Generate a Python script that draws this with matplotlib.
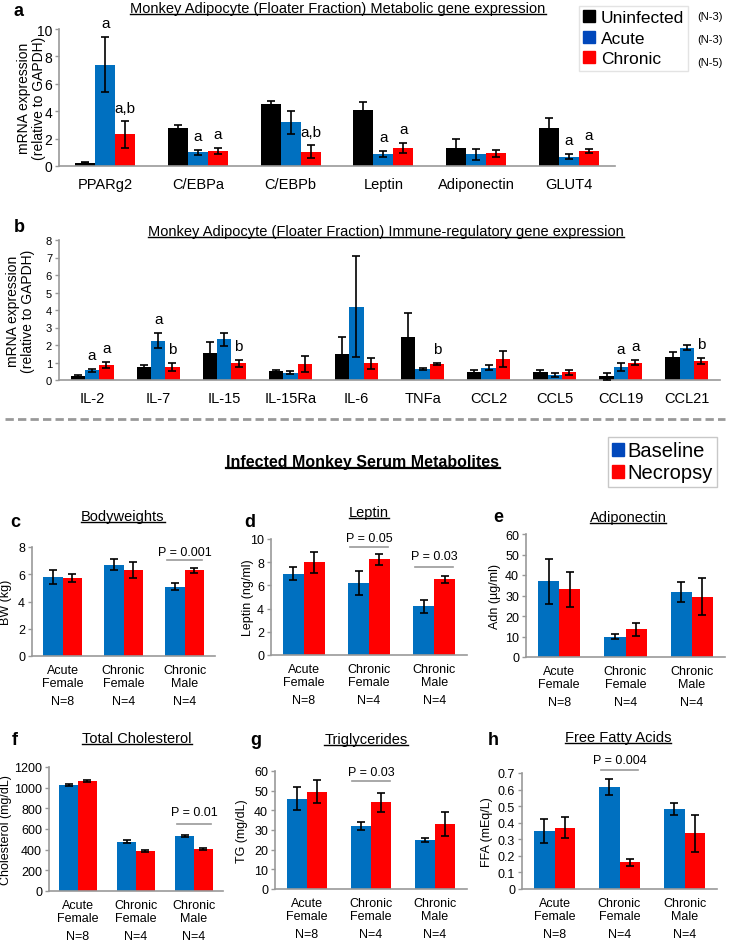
import numpy as np
import matplotlib
matplotlib.use("Agg")
import matplotlib.pyplot as plt
from matplotlib.lines import Line2D
from matplotlib.patches import Patch

plt.rcParams['font.family'] = ['Liberation Sans', 'DejaVu Sans']

W, H = 730, 945

# ---- panel a: metabolic genes ----
genes_a = ["PPARg2", "C/EBPa", "C/EBPb", "Leptin", "Adiponectin", "GLUT4"]
unin_a = [0.25, 2.8, 4.55, 4.1, 1.35, 2.8]
unin_a_err = [0.05, 0.2, 0.2, 0.6, 0.6, 0.73]
acute_a = [7.4, 1.0, 3.2, 0.88, 0.85, 0.68]
acute_a_err = [2.0, 0.2, 0.85, 0.22, 0.4, 0.2]
chron_a = [2.3, 1.1, 1.05, 1.3, 0.92, 1.1]
chron_a_err = [0.95, 0.2, 0.45, 0.35, 0.27, 0.14]
sig_a_acute = ["a", "a", "", "a", "", "a"]
sig_a_chron = ["a,b", "a", "a,b", "a", "", "a"]

# ---- panel b: immune genes ----
genes_b = ["IL-2", "IL-7", "IL-15", "IL-15Ra", "IL-6", "TNFa", "CCL2", "CCL5", "CCL19", "CCL21"]
unin_b = [0.22, 0.75, 1.55, 0.5, 1.5, 2.45, 0.47, 0.45, 0.22, 1.33]
unin_b_err = [0.07, 0.12, 0.6, 0.07, 0.97, 1.38, 0.1, 0.12, 0.2, 0.27]
acute_b = [0.55, 2.25, 2.33, 0.42, 4.2, 0.65, 0.7, 0.3, 0.75, 1.85]
acute_b_err = [0.07, 0.43, 0.38, 0.1, 2.9, 0.05, 0.15, 0.1, 0.23, 0.15]
chron_b = [0.88, 0.75, 0.97, 0.9, 0.95, 0.9, 1.2, 0.45, 1.0, 1.1]
chron_b_err = [0.17, 0.22, 0.2, 0.47, 0.33, 0.07, 0.45, 0.15, 0.17, 0.17]
sig_b_acute = ["a", "a", "", "", "", "", "", "", "a", ""]
sig_b_chron = ["a", "b", "b", "", "", "b", "", "", "a", "b"]

# ---- panels c-h: serum metabolites ----
groups = ["Acute\nFemale", "Chronic\nFemale", "Chronic\nMale"]
n_labels = ["N=8", "N=4", "N=4"]

bw_base = [5.8, 6.7, 5.1]
bw_base_err = [0.5, 0.42, 0.25]
bw_necr = [5.75, 6.3, 6.3]
bw_necr_err = [0.3, 0.6, 0.18]

lep_base = [7.0, 6.2, 4.2]
lep_base_err = [0.55, 1.0, 0.57]
lep_necr = [8.0, 8.25, 6.55]
lep_necr_err = [0.9, 0.5, 0.3]

adn_base = [37.0, 10.0, 31.5]
adn_base_err = [11.0, 1.0, 4.9]
adn_necr = [33.0, 13.5, 29.5]
adn_necr_err = [8.7, 3.3, 9.0]

chol_base = [1030, 475, 535]
chol_base_err = [10, 15, 10]
chol_necr = [1065, 385, 410]
chol_necr_err = [12, 12, 10]

tg_base = [46.0, 32.0, 25.0]
tg_base_err = [5.7, 2.0, 1.0]
tg_necr = [49.5, 44.0, 33.0]
tg_necr_err = [6.0, 4.8, 6.0]

ffa_base = [0.35, 0.615, 0.48]
ffa_base_err = [0.072, 0.05, 0.036]
ffa_necr = [0.37, 0.16, 0.335]
ffa_necr_err = [0.063, 0.022, 0.11]

BLACK = "#000000"
BLUE = "#0070C0"
RED = "#FF0000"
SPINE = "#999999"

fig = plt.figure(figsize=(W / 100, H / 100), dpi=100)


def px_axes(left, top, right, bottom):
    return fig.add_axes([left / W, 1 - bottom / H, (right - left) / W, (bottom - top) / H])


def style(ax, ylim, step, fs):
    ax.set_ylim(*ylim)
    ax.set_yticks(np.arange(ylim[0], ylim[1] + step / 2, step))
    for s in ["top", "right"]:
        ax.spines[s].set_visible(False)
    for s in ["left", "bottom"]:
        ax.spines[s].set_color(SPINE)
        ax.spines[s].set_linewidth(1.2)
    ax.tick_params(axis="y", colors=SPINE, labelcolor="black", labelsize=fs, length=3, width=1, pad=2)
    ax.tick_params(axis="x", length=0)


def ylabel_at(ax, text, fs, xfrac):
    ax.set_ylabel(text, fontsize=fs, va="center", ha="center", linespacing=1.1)
    ax.yaxis.set_label_coords(xfrac, 0.5)


def grouped(ax, series, errs, colors, width):
    n = len(series)
    x = np.arange(len(series[0]))
    tops = []
    for i, (vals, err, col) in enumerate(zip(series, errs, colors)):
        pos = x + (i - (n - 1) / 2) * width
        ax.bar(pos, vals, width, color=col, zorder=2)
        ax.errorbar(pos, vals, yerr=err, fmt="none", ecolor="black", elinewidth=1.2,
                    capsize=3, capthick=1.2, zorder=3)
        tops.append((pos, np.array(vals) + np.array(err)))
    ax.set_xlim(-0.5, len(series[0]) - 0.5)
    return tops


def sig_letters(ax, pos, tops, labels, fs):
    for p, t, lab in zip(pos, tops, labels):
        if lab:
            ax.annotate(lab, (p, t), xytext=(0, 5), textcoords="offset points",
                        ha="center", va="bottom", fontsize=fs, annotation_clip=False)


def pbar(ax, xc, y_line, y_text, label, half=0.29):
    ax.plot([xc - half, xc + half], [y_line, y_line], color=SPINE, lw=1.2, clip_on=False)
    ax.text(xc, y_text, label, ha="center", va="center", fontsize=9)


# ---------- panel a ----------
ax = px_axes(59, 30, 615, 167)
tops = grouped(ax, [unin_a, acute_a, chron_a], [unin_a_err, acute_a_err, chron_a_err],
               [BLACK, BLUE, RED], 0.215)
style(ax, (0, 10), 2, 10)
ax.set_xticks(range(len(genes_a)))
ax.set_xticklabels(genes_a, fontsize=10.5)
ax.tick_params(axis="x", pad=8)
ylabel_at(ax, "mRNA expression\n(relative to GAPDH)", 10, -0.05)
sig_letters(ax, tops[1][0], tops[1][1], sig_a_acute, 11)
sig_letters(ax, tops[2][0], tops[2][1], sig_a_chron, 11)

handles = [Patch(color=c) for c in [BLACK, "#0047BB", RED]]
fig.legend(handles, ["Uninfected", "Acute", "Chronic"], loc="upper left",
           bbox_to_anchor=(579 / W, 1 - 7 / H), borderaxespad=0, fontsize=12.5,
           handlelength=0.7, handleheight=0.7, handletextpad=0.3, labelspacing=0.3,
           borderpad=0.25, frameon=True, fancybox=False, edgecolor="#dddddd")
for yy, t in zip([17, 40, 63], ["(N-3)", "(N-3)", "(N-5)"]):
    fig.text(697 / W, 1 - yy / H, t, fontsize=8, va="center")

t_a = fig.text(338 / W, 1 - 9 / H, "Monkey Adipocyte (Floater Fraction) Metabolic gene expression",
               ha="center", va="center", fontsize=10.5)
fig.text(14 / W, 1 - 12 / H, "a", fontsize=13, fontweight="bold", va="center")

# ---------- panel b ----------
ax = px_axes(59, 241, 720, 381)
tops = grouped(ax, [unin_b, acute_b, chron_b], [unin_b_err, acute_b_err, chron_b_err],
               [BLACK, BLUE, RED], 0.217)
style(ax, (0, 8), 1, 8)
ax.set_xticks(range(len(genes_b)))
ax.set_xticklabels(genes_b, fontsize=10.5)
ax.tick_params(axis="x", pad=8)
ylabel_at(ax, "mRNA expression\n(relative to GAPDH)", 10, -0.058)
sig_letters(ax, tops[1][0], tops[1][1], sig_b_acute, 11)
sig_letters(ax, tops[2][0], tops[2][1], sig_b_chron, 11)

t_b = fig.text(386 / W, 1 - 232 / H, "Monkey Adipocyte (Floater Fraction) Immune-regulatory gene expression",
               ha="center", va="center", fontsize=10.5)
fig.text(14 / W, 1 - 228 / H, "b", fontsize=13, fontweight="bold", va="center")

# ---------- divider ----------
fig.add_artist(Line2D([5 / W, 725 / W], [1 - 420 / H, 1 - 420 / H], color="#999999",
                      lw=2, linestyle=(0, (3, 1.5))))

t_main = fig.text(363 / W, 1 - 463 / H, "Infected Monkey Serum Metabolites", ha="center",
                  va="center", fontsize=11.5, fontweight="bold")
fig.legend([Patch(color="#0047BB"), Patch(color=RED)], ["Baseline", "Necropsy"],
           loc="upper left", bbox_to_anchor=(608 / W, 1 - 438 / H), borderaxespad=0,
           fontsize=14.5, handlelength=0.55, handleheight=0.6, handletextpad=0.2,
           labelspacing=0.15, borderpad=0.22, frameon=True, fancybox=False, edgecolor="#bbbbbb")

# ---------- panels c-h ----------
panels = [
    ("c", (32, 548, 215, 657), bw_base, bw_base_err, bw_necr, bw_necr_err, (0, 8), 2,
     "BW (kg)", -0.142, "Bodyweights", [(2, 7.05, 7.6, "P = 0.001")]),
    ("d", (271, 540, 467, 656), lep_base, lep_base_err, lep_necr, lep_necr_err, (0, 10), 2,
     "Leptin (ng/ml)", -0.117, "Leptin", [(1, 9.3, 10.1, "P = 0.05"), (2, 7.6, 8.5, "P = 0.03")]),
    ("e", (526, 535, 725, 658), adn_base, adn_base_err, adn_necr, adn_necr_err, (0, 60), 10,
     "Adn (µg/ml)", -0.156, "Adiponectin", []),
    ("f", (49, 768, 223, 892), chol_base, chol_base_err, chol_necr, chol_necr_err, (0, 1200), 200,
     "Cholesterol (mg/dL)", -0.245, "Total Cholesterol", [(2, 648, 765, "P = 0.01")]),
    ("g", (275, 772, 467, 890), tg_base, tg_base_err, tg_necr, tg_necr_err, (0, 60), 10,
     "TG (mg/dL)", -0.17, "Triglycerides", [(1, 54.9, 59.5, "P = 0.03")]),
    ("h", (522, 774, 717, 890), ffa_base, ffa_base_err, ffa_necr, ffa_necr_err, (0, 0.7), 0.1,
     "FFA (mEq/L)", -0.18, "Free Fatty Acids", [(1, 0.718, 0.778, "P = 0.004")]),
]

titles = [t_a, t_b, t_main]
title_pos = {"c": (123, 517, 10, 523), "d": (369, 513, 244, 523), "e": (628, 518, 493, 518),
             "f": (137, 739, 12, 741), "g": (366, 740, 250, 741), "h": (618, 738, 488, 741)}

for letter, box, b, be, nv, ne, ylim, step, ylab, ylx, title, pvals in panels:
    ax = px_axes(*box)
    grouped(ax, [b, nv], [be, ne], [BLUE, RED], 0.32)
    style(ax, ylim, step, 9)
    if letter == "h":
        ax.set_yticklabels([f"{v:.1f}" if v > 0 else "0" for v in ax.get_yticks()])
    ax.set_xticks(range(3))
    ax.set_xticklabels(groups, fontsize=9, linespacing=1.05)
    ax.tick_params(axis="x", pad=6)
    ylabel_at(ax, ylab, 9, ylx)
    for i, nl in enumerate(n_labels):
        ax.annotate(nl, (i, 0), xytext=(0, -32.5), textcoords="offset points", ha="center",
                    va="center", fontsize=9, annotation_clip=False)
    for xc, yl, yt, lab in pvals:
        pbar(ax, xc, yl, yt, lab)
    tx, ty, lx, ly = title_pos[letter]
    titles.append(fig.text(tx / W, 1 - ty / H, title, ha="center", va="center", fontsize=10.5))
    fig.text(lx / W, 1 - ly / H, letter, fontsize=13, fontweight="bold", va="center")

# underline titles
fig.canvas.draw()
r = fig.canvas.get_renderer()
for t in titles:
    bb = t.get_window_extent(r)
    y = (bb.y0 + 1) / fig.bbox.height
    lw = 1.6 if t is t_main else 1.0
    fig.add_artist(Line2D([bb.x0 / fig.bbox.width, bb.x1 / fig.bbox.width], [y, y],
                          color="black", lw=lw))

fig.savefig("out.png", dpi=100)
